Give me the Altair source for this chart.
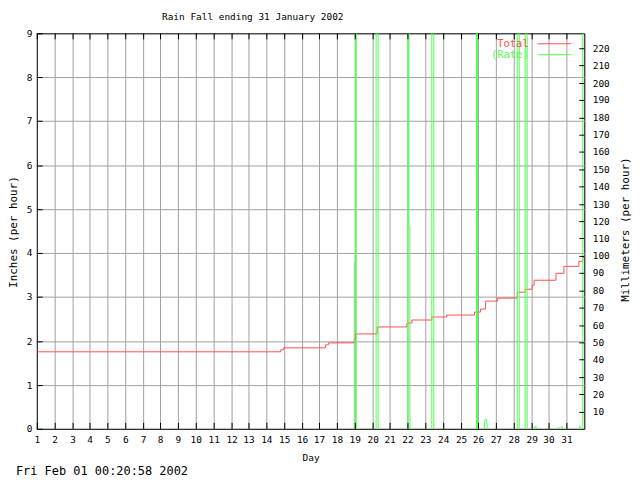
import altair as alt
import pandas as pd

# ---- data ----
title_text = "Rain Fall ending 31 January 2002"
footer_text = "Fri Feb 01 00:20:58 2002"

total_days = [1, 14.78, 14.95, 17.30, 17.48, 18.95, 19.00, 20.24, 21.93, 22.21,
              23.34, 24.18, 25.78, 26.09, 26.37, 27.05, 28.17, 28.62, 29.02, 29.13,
              30.39, 30.82, 31.64, 31.90, 32.0]
total_inches = [1.77, 1.80, 1.85, 1.92, 1.96, 2.05, 2.16, 2.32, 2.42, 2.48,
                2.56, 2.60, 2.66, 2.74, 2.91, 2.98, 3.11, 3.18, 3.28, 3.385,
                3.56, 3.71, 3.83, 3.92, 4.01]

rate_days = [1,
             18.93, 18.93, 18.99, 18.99, 19.08, 19.08,
             20.17, 20.17, 20.31, 20.31,
             21.96, 21.96, 22.05, 22.05, 22.10, 22.10,
             23.31, 23.31, 23.35, 23.35, 23.46, 23.46,
             25.84, 25.84, 25.94, 25.94,
             26.30, 26.33, 26.39, 26.45, 26.48,
             28.20, 28.20, 28.30, 28.30,
             28.65, 28.65, 28.75, 28.75,
             29.14, 29.17, 29.24, 29.27,
             30.50, 30.53, 30.58,
             30.70, 30.73, 30.78,
             31.70, 31.73, 31.77,
             31.87, 31.87, 32.0]
rate_inches = [0,
               0, 3.8, 3.8, 12, 12, 0,
               0, 12, 12, 0,
               0, 12, 12, 4.6, 4.6, 0,
               0, 4.5, 4.5, 12, 12, 0,
               0, 12, 12, 0,
               0, 0.17, 0.23, 0.23, 0,
               0, 12, 12, 0,
               0, 12, 12, 0,
               0, 0.06, 0.06, 0,
               0, 0.05, 0,
               0, 0.07, 0,
               0, 0.06, 0,
               0, 12, 12]

day_ticks = list(range(1, 32))
day_grid = list(range(1, 33))
inch_ticks = list(range(0, 10))
mm_ticks = list(range(10, 230, 10))

legend_labels = ["Total", "(Rate)"]
RED = "#ff5050"
GREEN = "#50ff50"
GRID = "#a0a0a0"
FONT = "DejaVu Sans Mono"
FS = 9.5
TFS = 11
NB = "\u00a0"

W, H = 551, 398

xscale = alt.Scale(domain=[1, 32], nice=False, zero=False, round=True)
yscale = alt.Scale(domain=[0, 9], nice=False, zero=True, round=True)

total_df = pd.DataFrame({"day": total_days, "inches": total_inches})
rate_df = pd.DataFrame({"day": rate_days, "inches": rate_inches,
                        "idx": list(range(len(rate_days)))})
days_df = pd.DataFrame({"day": day_ticks})
inch_df = pd.DataFrame({"inch": inch_ticks})
mm_df = pd.DataFrame({"mm": mm_ticks})

x_axis = alt.Axis(values=day_grid, grid=True,
                  gridColor={"condition": {"test": "datum.value == 1 || datum.value == 32", "value": "black"}, "value": GRID},
                  gridOpacity=1, domain=False, ticks=False, tickSize=0,
                  labelPadding=6, labelFont=FONT, labelFontSize=FS, labelColor="black",
                  labelAngle=0, labelFlush=False, labelOverlap=False, format="d",
                  labelExpr="datum.value == 32 ? '' : (datum.value > 1 && datum.value < 10 ? datum.label + '" + NB + "' : datum.label)",
                  title="Day", titleFont=FONT, titleFontSize=FS, titleFontWeight="normal",
                  titleColor="black", titleY=24, titleBaseline="top")


def X():
    return alt.X("day:Q", scale=xscale, axis=x_axis)


y_axis = alt.Axis(values=inch_ticks, grid=True,
                  gridColor={"condition": {"test": "datum.value == 0 || datum.value == 9", "value": "black"}, "value": GRID},
                  gridOpacity=1, domain=False, ticks=False, tickSize=0,
                  labelPadding=5, labelFont=FONT, labelFontSize=FS, labelColor="black",
                  labelFlush=False, labelOverlap=False, format="d",
                  title="Inches (per hour)", titleFont=FONT, titleFontSize=TFS,
                  titleFontWeight="normal", titleColor="black", titleAngle=270,
                  titleX=-23.5, titleY=199.5, titleBaseline="middle", titleAlign="center")

total_line = alt.Chart(total_df).mark_line(
    color=RED, strokeWidth=1, interpolate="step-after", clip=True, xOffset=0.5, yOffset=0.5
).encode(
    x=X(),
    y=alt.Y("inches:Q", scale=yscale, axis=y_axis),
)

rate_line = alt.Chart(rate_df).mark_line(
    color=GREEN, strokeWidth=1, clip=True, xOffset=0.5, yOffset=0.5
).encode(
    x=X(),
    y=alt.Y("inches:Q", scale=yscale, axis=None),
    order=alt.Order("idx:Q"),
)

bottom_ticks = alt.Chart(days_df).mark_rule(color="black", strokeWidth=1, xOffset=0.5).encode(
    x=X(), y=alt.value(H - 6), y2=alt.value(H))
top_ticks = alt.Chart(days_df).mark_rule(color="black", strokeWidth=1, xOffset=0.5).encode(
    x=X(), y=alt.value(0), y2=alt.value(6))
left_ticks = alt.Chart(inch_df).mark_rule(color="black", strokeWidth=1, yOffset=0.5).encode(
    y=alt.Y("inch:Q", scale=yscale, axis=None), x=alt.value(0), x2=alt.value(6))

mm_axis = alt.Axis(orient="right", values=mm_ticks, grid=False, domain=False, ticks=False,
                   tickSize=0, labelPadding=8, labelFont=FONT, labelFontSize=FS,
                   labelColor="black", labelFlush=False, labelOverlap=False, format="d",
                   title="Millimeters (per hour)", titleFont=FONT, titleFontSize=TFS,
                   titleFontWeight="normal", titleColor="black", titleAngle=270,
                   titleX=41, titleY=197, titleBaseline="middle", titleAlign="center")
right_ticks = alt.Chart(mm_df).mark_rule(color="black", strokeWidth=1, yOffset=0.5).encode(
    y=alt.Y("mm:Q", scale=alt.Scale(domain=[0, 228.6], nice=False, round=True), axis=mm_axis),
    x=alt.value(W - 5), x2=alt.value(W))

# legend (text on the left, line sample on the right)
legend_layers = []
for i, (lab, col) in enumerate(zip(legend_labels, [RED, GREEN])):
    ldf = pd.DataFrame({"label": [lab]})
    yy = 10.5 + i * 11
    legend_layers.append(
        alt.Chart(ldf).mark_text(align="right", baseline="middle", font=FONT, fontSize=10.5, color=col)
        .encode(text="label:N", x=alt.value(495), y=alt.value(yy)))
    legend_layers.append(
        alt.Chart(ldf).mark_rule(color=col, strokeWidth=1)
        .encode(x=alt.value(504), x2=alt.value(538), y=alt.value(yy)))

title_mark = alt.Chart(pd.DataFrame({"t": [title_text]})).mark_text(
    align="left", baseline="alphabetic", font=FONT, fontSize=FS, color="black"
).encode(text="t:N", x=alt.value(126), y=alt.value(-13))

footer = alt.Chart(pd.DataFrame({"t": [footer_text]})).mark_text(
    align="left", baseline="alphabetic", font=FONT, fontSize=12, color="black"
).encode(text="t:N", x=alt.value(-21), y=alt.value(444))

chart = alt.layer(
    total_line, rate_line, bottom_ticks, top_ticks, left_ticks, right_ticks,
    *legend_layers, title_mark, footer
).resolve_scale(y="independent").properties(
    width=W, height=H,
    autosize=alt.AutoSizeParams(type="none"),
    padding={"left": 29, "top": 24, "right": 48, "bottom": 48},
).configure_view(strokeWidth=0).configure(background="white")

chart.save("out.html", embed_options={"renderer": "svg", "actions": False})
